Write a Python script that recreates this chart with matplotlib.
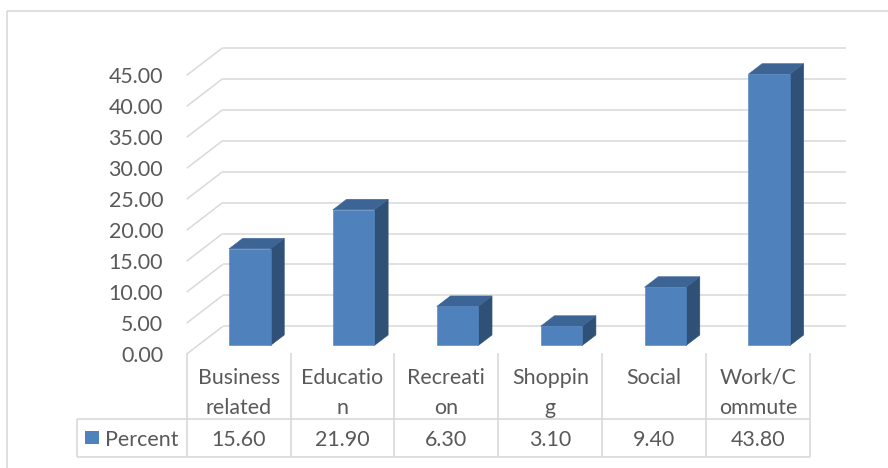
import matplotlib
matplotlib.use("Agg")
import matplotlib.pyplot as plt
from matplotlib.patches import Polygon

# ---- data ----
categories = ["Business\nrelated", "Educatio\nn", "Recreati\non", "Shoppin\ng", "Social", "Work/C\nommute"]
percent = [15.60, 21.90, 6.30, 3.10, 9.40, 43.80]
series_name = "Percent"
y_ticks = [0, 5, 10, 15, 20, 25, 30, 35, 40, 45]

# ---- style ----
plt.rcParams['font.family'] = ['Lato', 'DejaVu Sans']
TEXT = '#595959'
GRID = '#D9D9D9'
FRONT = '#4F81BD'
TOP = '#3C6494'
SIDE = '#2F5077'
FS = 15.4

W, H = 888, 468
fig = plt.figure(figsize=(W / 100, H / 100), dpi=100)
fig.patch.set_facecolor('white')

# overlay in pixel units for the frame and data table
lay = fig.add_axes([0, 0, 1, 1])
lay.set_xlim(0, W)
lay.set_ylim(H, 0)
lay.axis('off')

# front plane of the 3-D plot area (pixels from top-left)
X0, X1 = 186.7, 810.0
Y0, Y1 = 354.0, 75.3
n = len(categories)
ymax = y_ticks[-1]
ax = fig.add_axes([X0 / W, 1 - Y0 / H, (X1 - X0) / W, (Y0 - Y1) / H])
ax.set_xlim(0, n)
ax.set_ylim(0, ymax)
ax.axis('off')

px_x = (X1 - X0) / n
px_y = (Y0 - Y1) / ymax
DX = 36.0 / px_x       # depth offset in category units
DY = 27.6 / px_y       # depth offset in value units


def P(x, v, d):
    return (x + d * DX, v + d * DY)


gkw = dict(color=GRID, lw=1.1, clip_on=False, solid_capstyle='butt', zorder=1)
for v in y_ticks:
    # back wall gridline
    ax.plot([P(0, v, 1)[0], P(n, v, 1)[0]], [v + DY, v + DY], **gkw)
    # side wall diagonal
    ax.plot([0, DX], [v, v + DY], **gkw)
    # tick label
    ax.text(-23.7 / px_x, v - 8.0 / px_y, f"{v:.2f}", ha='right', va='baseline',
            fontsize=FS, color=TEXT, clip_on=False)

# bars
BW = 0.40
BD = 0.38
d0, d1 = (1 - BD) / 2, (1 + BD) / 2
for i, v in enumerate(percent):
    c = i + 0.5
    xl, xr = c - BW / 2, c + BW / 2
    side = [P(xr, 0, d0), P(xr, 0, d1), P(xr, v, d1), P(xr, v, d0)]
    top = [P(xl, v, d0), P(xr, v, d0), P(xr, v, d1), P(xl, v, d1)]
    front = [P(xl, 0, d0), P(xr, 0, d0), P(xr, v, d0), P(xl, v, d0)]
    for pts, col in ((side, SIDE), (top, TOP), (front, FRONT)):
        ax.add_patch(Polygon(pts, closed=True, facecolor=col, edgecolor=col,
                             lw=0.4, clip_on=False, zorder=3))

# chart frame
lkw = dict(color=GRID, lw=1.2, solid_capstyle='butt')
lay.plot([7, W], [11, 11], **lkw)
lay.plot([7, 7], [11, H], **lkw)

# data table
T_TOP, T_MID, T_BOT = 352.7, 419.0, 457.3
LEG_X = 77.0
for k in range(n + 1):
    x = X0 + k * px_x
    lay.plot([x, x], [T_TOP, T_BOT], **lkw)
lay.plot([LEG_X, X1], [T_MID, T_MID], **lkw)
lay.plot([LEG_X, X1], [T_BOT, T_BOT], **lkw)
lay.plot([LEG_X, LEG_X], [T_MID, T_BOT], **lkw)

for i, (lab, v) in enumerate(zip(categories, percent)):
    cx = X0 + (i + 0.5) * px_x
    for j, line in enumerate(lab.split('\n')):
        lay.text(cx, 383.5 + j * 30.5, line, ha='center', va='baseline',
                 fontsize=FS, color=TEXT)
    lay.text(cx, 445.5, f"{v:.2f}", ha='center', va='baseline',
             fontsize=FS, color=TEXT)

lay.add_patch(plt.Rectangle((85, 431), 14, 13, facecolor=FRONT, edgecolor='none'))
lay.text(105, 445.5, series_name, ha='left', va='baseline', fontsize=FS, color=TEXT)

fig.savefig('out.png', dpi=100, facecolor='white')
